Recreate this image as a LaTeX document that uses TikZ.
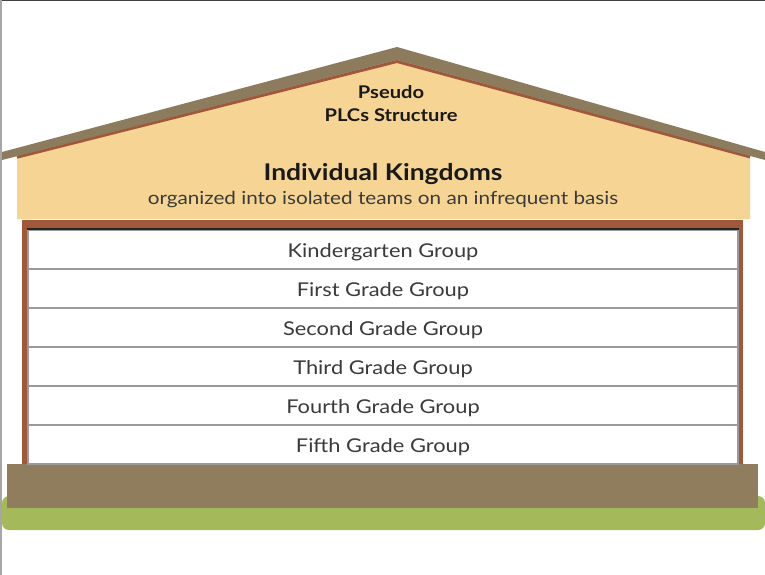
\documentclass[tikz,border=0pt]{standalone}
\usepackage{fontspec}
\setmainfont{Lato}[FakeStretch=1.15]
\definecolor{roofbrown}{HTML}{8C7B5C}
\definecolor{gablecream}{HTML}{F6D594}
\definecolor{rust}{HTML}{A0573A}
\definecolor{footing}{HTML}{907D5E}
\definecolor{lawn}{HTML}{A3B95A}
\definecolor{rowline}{HTML}{9A9A9A}
\definecolor{bodytext}{HTML}{3A3A3A}
\tikzset{
  rowbox/.style={draw=rowline, line width=1.2pt, fill=white, minimum width=710pt,
    minimum height=39pt, inner sep=0pt, text height=17pt, text depth=1pt,
    text=bodytext, font=\fontsize{19}{22}\selectfont},
  titletext/.style={font=\bfseries\fontsize{17.5}{23}\selectfont, text=black!90, align=center},
}
\begin{document}
\begin{tikzpicture}[x=1pt,y=-1pt]
  \useasboundingbox (0,0) rectangle (765,575);
  \fill[white] (0,0) rectangle (765,575);
  % frame edges
  \fill[black!75] (0,0) rectangle (765,1.5);
  \fill[black!35] (0,0) rectangle (1.5,575);

  % lawn and footing
  \fill[lawn, rounded corners=7pt] (2,496) rectangle (765,530);
  \fill[footing] (7,464) rectangle (758,508);

  % gable wall
  \fill[gablecream] (17,219) -- (17,150) -- (397,55) -- (750,150) -- (750,219) -- cycle;
  \draw[rust, line width=3pt] (17,157.2) -- (397,61.5) -- (750,156.9);
  % roof
  \fill[roofbrown] (2,152) -- (397,47) -- (765,152) -- (765,160) -- (397,60) -- (2,160) -- cycle;

  % walls
  \fill[rust] (22,220) rectangle (743,464);
  \fill[white] (28,229) rectangle (738,464);

  \node[rowbox] (k)  at (383,249.5) {Kindergarten Group};
  \node[rowbox] (g1) at (383,288.5) {First Grade Group};
  \node[rowbox] (g2) at (383,327.5) {Second Grade Group};
  \node[rowbox] (g3) at (383,366.5) {Third Grade Group};
  \node[rowbox] (g4) at (383,405.5) {Fourth Grade Group};
  \node[rowbox] (g5) at (383,444.5) {Fifth Grade Group};
  \draw[black!85, line width=2pt] (k.north west) -- (k.north east);

  % gable texts
  \node[titletext] (title) at (391,104) {Pseudo\\PLCs Structure};
  \node[font=\bfseries\fontsize{23}{26}\selectfont, text=black!90] (kingdoms) at (383,174) {Individual Kingdoms};
  \node[font=\fontsize{18}{21}\selectfont, text=bodytext] (sub) at (383,199.5) {organized into isolated teams on an infrequent basis};
\end{tikzpicture}
\end{document}
